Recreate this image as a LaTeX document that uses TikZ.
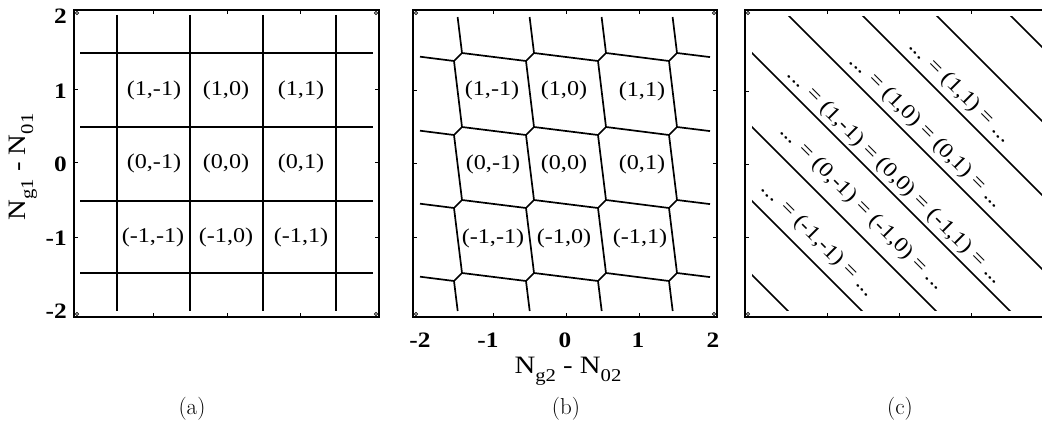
\documentclass[tikz,border=0pt]{standalone}
\usepackage{fontspec}
\newfontfamily\tms[FakeStretch=1.15]{Liberation Serif}
\usetikzlibrary{calc}
\newcommand{\mysub}[1]{\raisebox{-0.32em}{\fontsize{18}{18}\selectfont #1}}
\tikzset{
  frame/.style={line width=2pt, line cap=rect},
  gridline/.style={line width=1.7pt},
  tickmark/.style={line width=1pt},
  cornermark/.style={line width=0.7pt},
  cell/.style={font=\tms\fontsize{21}{21}\selectfont, inner sep=0pt},
  ticklbl/.style={font=\tms\bfseries\fontsize{22}{22}\selectfont, inner sep=0pt},
  axlbl/.style={font=\tms\fontsize{25}{25}\selectfont, inner sep=0pt},
  sublbl/.style={font=\fontsize{23}{23}\selectfont, inner sep=0pt}
}
\begin{document}
\begin{tikzpicture}[x=1pt,y=-1pt]
\useasboundingbox (0,0) rectangle (1042,435);
\fill[white] (0,0) rectangle (1042,435);
\clip (0,0) rectangle (1042,435);

% ---------------- panel (a) ----------------
\coordinate (aTL) at (74,10); \coordinate (aBR) at (379,317);
\draw[frame] (aTL) rectangle (aBR);
\foreach \x in {153,227,300} {
  \draw[tickmark] (\x,10) -- ++(0,4);
  \draw[tickmark] (\x,317) -- ++(0,-4);
}
\foreach \y in {90,163,238} {
  \draw[tickmark] (74,\y) -- ++(4,0);
  \draw[tickmark] (379,\y) -- ++(-4,0);
}
\foreach \x in {117,190,263,336} \draw[gridline] (\x,15) -- (\x,311);
\foreach \y in {53,127,201,273} \draw[gridline] (80,\y) -- (373,\y);
\foreach \p in {(77,13),(376,13),(77,314),(376,314)} \draw[cornermark] \p circle (1.6);

\node[cell] (a1m) at (154,90) {(1,-1)};
\node[cell] (a10) at (226,90) {(1,0)};
\node[cell] (a1p) at (301,90) {(1,1)};
\node[cell] (a0m) at (154,163) {(0,-1)};
\node[cell] (a00) at (226,163) {(0,0)};
\node[cell] (a0p) at (301,163) {(0,1)};
\node[cell] (amm) at (153,237) {(-1,-1)};
\node[cell] (am0) at (226,237) {(-1,0)};
\node[cell] (amp) at (301,237) {(-1,1)};

\node[ticklbl, anchor=east] (ty2) at (67,16) {2};
\node[ticklbl, anchor=east] (ty1) at (67,91) {1};
\node[ticklbl, anchor=east] (ty0) at (67,164) {0};
\node[ticklbl, anchor=east] (tym1) at (67,238) {-1};
\node[ticklbl, anchor=east] (tym2) at (67,311) {-2};
\node[axlbl, rotate=90] (ylab) at (23,167) {N\mysub{g1} - N\mysub{01}};

% ---------------- panel (b) ----------------
\coordinate (bTL) at (413,10); \coordinate (bBR) at (717,317);
\draw[frame] (bTL) rectangle (bBR);
\foreach \x in {493,566,639} {
  \draw[tickmark] (\x,10) -- ++(0,4);
  \draw[tickmark] (\x,317) -- ++(0,-4);
}
\foreach \y in {91,164,238} {
  \draw[tickmark] (413,\y) -- ++(4,0);
  \draw[tickmark] (717,\y) -- ++(-4,0);
}
\foreach \p in {(416,13),(714,13),(416,314),(714,314)} \draw[cornermark] \p circle (1.6);

\foreach \c/\x in {1/458,2/530,3/602,4/673}
  \foreach \r/\y in {1/57,2/131,3/204,4/277} {
    \coordinate (A\c\r) at (\x-4,\y+4);
    \coordinate (B\c\r) at (\x+4,\y-4);
  }
\foreach \c in {1,2,3,4} \foreach \r in {1,2,3,4} \draw[gridline] (A\c\r) -- (B\c\r);
\foreach \c [evaluate=\c as \n using int(\c+1)] in {1,2,3}
  \foreach \r in {1,2,3,4} \draw[gridline] (B\c\r) -- (A\n\r);
\foreach \r [evaluate=\r as \n using int(\r+1)] in {1,2,3}
  \foreach \c in {1,2,3,4} \draw[gridline] (A\c\r) -- (B\c\n);
\foreach \r in {1,2,3,4} {
  \draw[gridline] ($(A1\r)+(-34,-4.3)$) -- (A1\r);
  \draw[gridline] (B4\r) -- ++(33,4.1);
}
\foreach \c in {1,2,3,4} {
  \draw[gridline] (B\c1) -- ++(-4.4,-36);
  \draw[gridline] (A\c4) -- ++(3.7,30);
}

\node[cell] (b1m) at (492,90) {(1,-1)};
\node[cell] (b10) at (564,90) {(1,0)};
\node[cell] (b1p) at (642,91) {(1,1)};
\node[cell] (b0m) at (493,164) {(0,-1)};
\node[cell] (b00) at (564,164) {(0,0)};
\node[cell] (b0p) at (642,164) {(0,1)};
\node[cell] (bmm) at (493,238) {(-1,-1)};
\node[cell] (bm0) at (564,238) {(-1,0)};
\node[cell] (bmp) at (640,238) {(-1,1)};

\node[ticklbl] (tx1) at (420,340) {-2};
\node[ticklbl] (tx2) at (488,340) {-1};
\node[ticklbl] (tx3) at (565,340) {0};
\node[ticklbl] (tx4) at (638,340) {1};
\node[ticklbl] (tx5) at (713,340) {2};
\node[axlbl] (xlab) at (568,371) {N\mysub{g2} - N\mysub{02}};

% ---------------- panel (c) ----------------
\coordinate (cTL) at (745,10);
\draw[frame] (1050,10) -- (cTL) -- (745,317) -- (1050,317);
\foreach \x in {827,899,971} {
  \draw[tickmark] (\x,10) -- ++(0,4);
  \draw[tickmark] (\x,317) -- ++(0,-4);
}
\foreach \y in {92,165,238} \draw[tickmark] (745,\y) -- ++(4,0);
\foreach \p in {(748,13),(748,314)} \draw[cornermark] \p circle (1.6);
\begin{scope}
  \clip (752,17) rectangle (1050,311);
  \foreach \c in {477,551,625,699,773,847,921,995}
    \draw[gridline] (\c-20,-20) -- (\c+340,340);
\end{scope}
\node[cell, rotate=-45] (c1) at (960,92) {... = (1,1) = ...};
\node[cell, rotate=-45] (c2) at (926,132) {... = (1,0) = (0,1) = ...};
\node[cell, rotate=-45] (c3) at (895,177) {... = (1,-1) = (0,0) = (-1,1) = ...};
\node[cell, rotate=-45] (c4) at (862,208) {... = (0,-1) = (-1,0) = ...};
\node[cell, rotate=-45] (c5) at (818,240) {... = (-1,-1) = ...};

% ---------------- sub-captions ----------------
\node[sublbl] (la) at (192,409) {(a)};
\node[sublbl] (lb) at (566,409) {(b)};
\node[sublbl] (lc) at (900,409) {(c)};
\end{tikzpicture}
\end{document}
